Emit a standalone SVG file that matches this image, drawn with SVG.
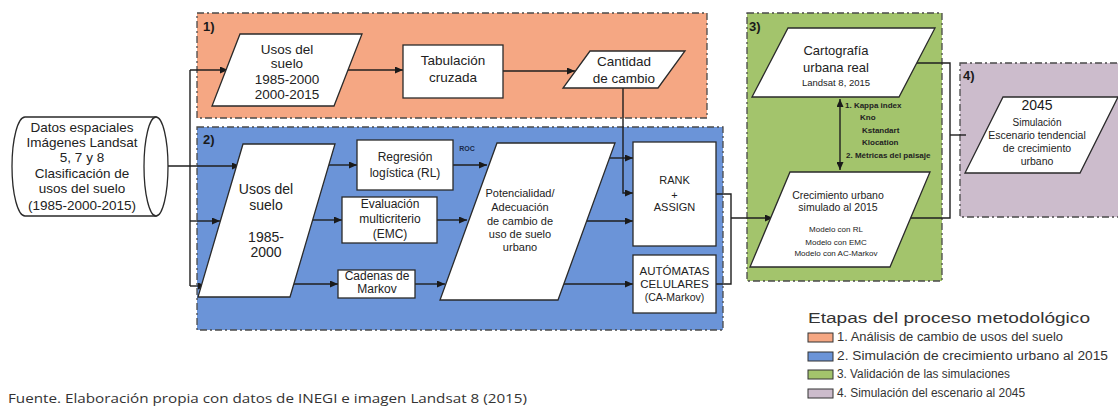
<svg xmlns="http://www.w3.org/2000/svg" width="1118" height="408" viewBox="0 0 1118 408">
<defs>
<marker id="ah" markerUnits="userSpaceOnUse" markerWidth="8" markerHeight="7" refX="8" refY="3.5" orient="auto-start-reverse"><path d="M0,0 L8,3.5 L0,7 z" fill="#1a1a1a"/></marker>
</defs>
<style>
text{font-family:"Liberation Sans",Arial,sans-serif;fill:#222;text-anchor:middle}
.panel{stroke:#4a4a4a;stroke-width:1.3;stroke-dasharray:7 3 2 3}
.node{fill:#fff;stroke:#2a2a2a;stroke-width:1.3}
.lbl{font-weight:bold;font-size:13px;text-anchor:start;fill:#1a1a1a}
.c{fill:none;stroke:#1f1f1f;stroke-width:1.4}
.t14{font-size:13.5px}
.t12{font-size:12px}
.t11{font-size:11px}
.leg{font-size:12px;text-anchor:start;fill:#333}
.sw{stroke:#333;stroke-width:1}
</style>
<rect width="1118" height="408" fill="#fff"/>

<g id="panel1"><rect class="panel" x="197" y="13" width="510" height="105" fill="#F5A783"/><text class="lbl" x="203" y="31">1)</text></g>
<g id="panel2"><rect class="panel" x="197" y="127" width="526" height="203" fill="#6B94D8"/><text class="lbl" x="203" y="144">2)</text></g>
<g id="panel3"><rect class="panel" x="747" y="13" width="195" height="268" fill="#A3C46C"/><text class="lbl" x="749" y="31">3)</text></g>
<g id="panel4"><rect class="panel" x="960" y="63" width="170" height="154" fill="#CCBCCC"/><text class="lbl" x="963" y="80">4)</text></g>

<g id="connectors">
<path class="c" d="M168,166 H240" marker-end="url(#ah)"/>
<path class="c" d="M190,70 V286"/>
<path class="c" d="M190,70 H228" marker-end="url(#ah)"/>
<path class="c" d="M190,221 H220" marker-end="url(#ah)"/>
<path class="c" d="M190,286 H206" marker-end="url(#ah)"/>
<path class="c" d="M348,70 H403" marker-end="url(#ah)"/>
<path class="c" d="M503,71 H575" marker-end="url(#ah)"/>
<path class="c" d="M623,88 V193 H633" marker-end="url(#ah)"/>
<path class="c" d="M329,165 H357" marker-end="url(#ah)"/>
<path class="c" d="M313,220 H342" marker-end="url(#ah)"/>
<path class="c" d="M294,284 H338" marker-end="url(#ah)"/>
<path class="c" d="M453,165 H487" marker-end="url(#ah)"/>
<path class="c" d="M437,220 H467" marker-end="url(#ah)"/>
<path class="c" d="M415,284 H445" marker-end="url(#ah)"/>
<path class="c" d="M610,158 H633" marker-end="url(#ah)"/>
<path class="c" d="M587,221 H633" marker-end="url(#ah)"/>
<path class="c" d="M564,284 H633" marker-end="url(#ah)"/>
<path class="c" d="M716,194 H731 V284 H716"/>
<path class="c" d="M731,218 H773" marker-end="url(#ah)"/>
<path class="c" d="M911,218 H950 V63 H915"/>
<path class="c" d="M950,135 H966"/>
<path class="c" d="M840,99 V170" marker-start="url(#ah)" marker-end="url(#ah)"/>
<text x="467" y="151" style="font-size:7px;font-weight:bold;fill:#1a2a4a">ROC</text>
<g style="font-size:8px;font-weight:bold;text-anchor:start">
<text x="845" y="108" style="text-anchor:start">1. Kappa index</text>
<text x="860" y="120" style="text-anchor:start">Kno</text>
<text x="862" y="133" style="text-anchor:start">Kstandart</text>
<text x="862" y="145" style="text-anchor:start">Klocation</text>
<text x="846" y="158" style="text-anchor:start">2. Métricas del paisaje</text>
</g>
</g>

<g id="datos">
<path class="node" d="M25,117 H156 V216 H25 A13,49.5 0 0 1 25,117 Z"/>
<ellipse class="node" cx="156" cy="166.5" rx="12" ry="49.5"/>
<g class="t14">
<text x="82" y="132">Datos espaciales</text>
<text x="82" y="147">Imágenes Landsat</text>
<text x="82" y="162">5, 7 y 8</text>
<text x="82" y="178">Clasificación de</text>
<text x="82" y="193">usos del suelo</text>
<text x="82" y="210">(1985-2000-2015)</text>
</g>
</g>

<g id="usos1">
<path class="node" d="M240,34 H362 L334,106 H212 Z"/>
<g class="t14">
<text x="287" y="54">Usos del</text>
<text x="287" y="68">suelo</text>
<text x="287" y="84">1985-2000</text>
<text x="287" y="99">2000-2015</text>
</g>
</g>

<g id="tabulacion">
<rect class="node" x="403" y="45" width="100" height="53"/>
<text class="t14" x="453" y="65">Tabulación</text>
<text class="t14" x="453" y="82">cruzada</text>
</g>

<g id="cantidad">
<path class="node" d="M590,51 H685 L658,88 H563 Z"/>
<text class="t14" x="624" y="66">Cantidad</text>
<text class="t14" x="624" y="83">de cambio</text>
</g>

<g id="usos2">
<path class="node" d="M243,144 H335 L290,297 H198 Z"/>
<g style="font-size:14px">
<text x="266" y="194">Usos del</text>
<text x="266" y="210">suelo</text>
<text x="266" y="242">1985-</text>
<text x="266" y="257">2000</text>
</g>
</g>

<g id="regresion">
<rect class="node" x="357" y="140" width="96" height="50"/>
<text class="t12" x="405" y="161">Regresión</text>
<text class="t12" x="405" y="177">logística (RL)</text>
</g>

<g id="evaluacion">
<rect class="node" x="342" y="197" width="95" height="46"/>
<text class="t12" x="390" y="208">Evaluación</text>
<text class="t12" x="390" y="223">multicriterio</text>
<text class="t12" x="390" y="238">(EMC)</text>
</g>

<g id="cadenas">
<rect class="node" x="338" y="270" width="77" height="28"/>
<text class="t12" x="377" y="280">Cadenas de</text>
<text class="t12" x="377" y="293">Markov</text>
</g>

<g id="potencialidad">
<path class="node" d="M497,143 H615 L558,300 H440 Z"/>
<g class="t11">
<text x="520" y="197">Potencialidad/</text>
<text x="520" y="211">Adecuación</text>
<text x="520" y="225">de cambio de</text>
<text x="520" y="238">uso de suelo</text>
<text x="520" y="251">urbano</text>
</g>
</g>

<g id="rank">
<rect class="node" x="633" y="142" width="83" height="104"/>
<text class="t11" x="674.5" y="184">RANK</text>
<text class="t11" x="674.5" y="199">+</text>
<text class="t11" x="674.5" y="211">ASSIGN</text>
</g>

<g id="automatas">
<rect class="node" x="633" y="255" width="83" height="58"/>
<text x="674.5" y="275" style="font-size:11.5px">AUTÓMATAS</text>
<text x="674.5" y="288" style="font-size:11.5px">CELULARES</text>
<text x="674.5" y="301" style="font-size:10.5px">(CA-Markov)</text>
</g>

<g id="cartografia">
<path class="node" d="M788,28 H935 L899,97 H752 Z"/>
<text x="836" y="55" style="font-size:13px">Cartografía</text>
<text x="836" y="72" style="font-size:13px">urbana real</text>
<text x="836" y="86" style="font-size:9.5px">Landsat 8, 2015</text>
</g>

<g id="crecimiento">
<path class="node" d="M790,172 H930 L890,267 H750 Z"/>
<text x="838" y="199" style="font-size:10.5px">Crecimiento urbano</text>
<text x="838" y="211" style="font-size:10.5px">simulado al 2015</text>
<text x="836" y="232" style="font-size:8px">Modelo con RL</text>
<text x="836" y="245" style="font-size:8px">Modelo con EMC</text>
<text x="836" y="256" style="font-size:8px">Modelo con AC-Markov</text>
</g>

<g id="escenario2045">
<path class="node" d="M1003,97 H1118 L1080,173 H965 Z"/>
<text x="1037" y="110" style="font-size:14px;fill:#1a1a1a">2045</text>
<text x="1037" y="126" style="font-size:10px">Simulación</text>
<text x="1037" y="139" style="font-size:10.5px">Escenario tendencial</text>
<text x="1037" y="152" style="font-size:10.5px">de crecimiento</text>
<text x="1037" y="165" style="font-size:10.5px">urbano</text>
</g>

<g id="legend">
<text x="808" y="323" style="font-size:14px;text-anchor:start;fill:#333" textLength="282" lengthAdjust="spacingAndGlyphs">Etapas del proceso metodológico</text>
<rect class="sw" x="808" y="333" width="25" height="9" fill="#F5A783"/>
<text class="leg" x="837" y="341" textLength="226" lengthAdjust="spacingAndGlyphs">1. Análisis de cambio de usos del suelo</text>
<rect class="sw" x="808" y="352" width="25" height="9" fill="#6B94D8"/>
<text class="leg" x="837" y="360" textLength="271" lengthAdjust="spacingAndGlyphs">2. Simulación de crecimiento urbano al 2015</text>
<rect class="sw" x="808" y="370" width="25" height="9" fill="#A3C46C"/>
<text class="leg" x="837" y="378" textLength="173" lengthAdjust="spacingAndGlyphs">3. Validación de las simulaciones</text>
<rect class="sw" x="808" y="389" width="25" height="9" fill="#CCBCCC"/>
<text class="leg" x="837" y="397" textLength="188" lengthAdjust="spacingAndGlyphs">4. Simulación del escenario al 2045</text>
</g>

<text x="8" y="403" style="font-family:'Open Sans','Noto Sans',sans-serif;font-size:13.5px;text-anchor:start;fill:#333" textLength="519" lengthAdjust="spacingAndGlyphs">Fuente. Elaboración propia con datos de INEGI e imagen Landsat 8 (2015)</text>
</svg>
